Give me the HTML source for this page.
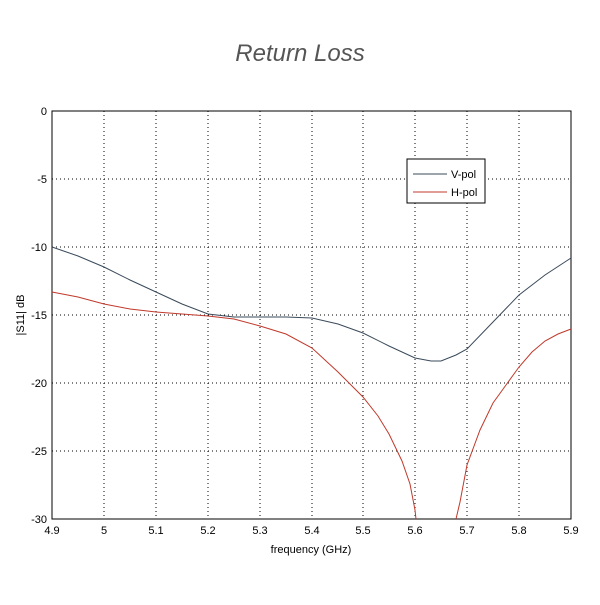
<!DOCTYPE html>
<html><head><style>body{margin:0;background:#fff}</style></head><body>
<svg width="600" height="600" xmlns="http://www.w3.org/2000/svg" font-family="Liberation Sans, sans-serif">
<rect width="600" height="600" fill="#fff"/>
<text x="300" y="61" text-anchor="middle" font-size="24" font-style="italic" fill="#555">Return Loss</text>
<g stroke="#000" stroke-width="1" stroke-dasharray="1,3">
<line x1="104" y1="111" x2="104" y2="519"/><line x1="156" y1="111" x2="156" y2="519"/><line x1="208" y1="111" x2="208" y2="519"/><line x1="260" y1="111" x2="260" y2="519"/><line x1="312" y1="111" x2="312" y2="519"/><line x1="363" y1="111" x2="363" y2="519"/><line x1="415" y1="111" x2="415" y2="519"/><line x1="467" y1="111" x2="467" y2="519"/><line x1="519" y1="111" x2="519" y2="519"/>
<line x1="52" y1="179" x2="571" y2="179"/><line x1="52" y1="247" x2="571" y2="247"/><line x1="52" y1="315" x2="571" y2="315"/><line x1="52" y1="383" x2="571" y2="383"/><line x1="52" y1="451" x2="571" y2="451"/>
</g>
<rect x="52" y="111" width="519" height="408" fill="none" stroke="#000"/>
<g font-size="11" fill="#000" text-anchor="end">
<text x="47" y="115">0</text><text x="47" y="183">-5</text><text x="47" y="251">-10</text><text x="47" y="319">-15</text><text x="47" y="387">-20</text><text x="47" y="455">-25</text><text x="47" y="523">-30</text>
</g>
<g font-size="11" fill="#000" text-anchor="middle">
<text x="52" y="534">4.9</text><text x="104" y="534">5</text><text x="156" y="534">5.1</text><text x="208" y="534">5.2</text><text x="260" y="534">5.3</text><text x="312" y="534">5.4</text><text x="363" y="534">5.5</text><text x="415" y="534">5.6</text><text x="467" y="534">5.7</text><text x="519" y="534">5.8</text><text x="571" y="534">5.9</text>
<text x="311" y="553">frequency (GHz)</text>
<text transform="translate(24,315) rotate(-90)">|S11| dB</text>
</g>
<polyline fill="none" stroke="#3a4a5a" stroke-width="1" points="52,247 78,256 104,267 130,280 156,292 182,304 208,314 234,317 260,317 286,317 312,318 338,324 363,333 389,346 415,358 431,361 441,361 456,355 467,349 493,322 519,295 545,275 571,258"/>
<polyline fill="none" stroke="#c0392b" stroke-width="1" points="52,292 78,297 104,304 130,309 156,312 182,314 208,316 234,319 260,326 286,334 312,348 338,372 363,397 378,416 389,434 402,461 410,484 415,510 416,519"/>
<polyline fill="none" stroke="#c0392b" stroke-width="1" points="456,519 460,502 467,465 480,430 493,403 506,385 519,367 532,352 545,341 558,334 571,329"/>
<rect x="407" y="159" width="78" height="44" fill="#fff" stroke="#000"/>
<line x1="413" y1="174" x2="447" y2="174" stroke="#3a4a5a"/>
<line x1="413" y1="192" x2="447" y2="192" stroke="#c0392b"/>
<text x="451" y="178" font-size="11">V-pol</text>
<text x="451" y="196" font-size="11">H-pol</text>
</svg>
</body></html>
